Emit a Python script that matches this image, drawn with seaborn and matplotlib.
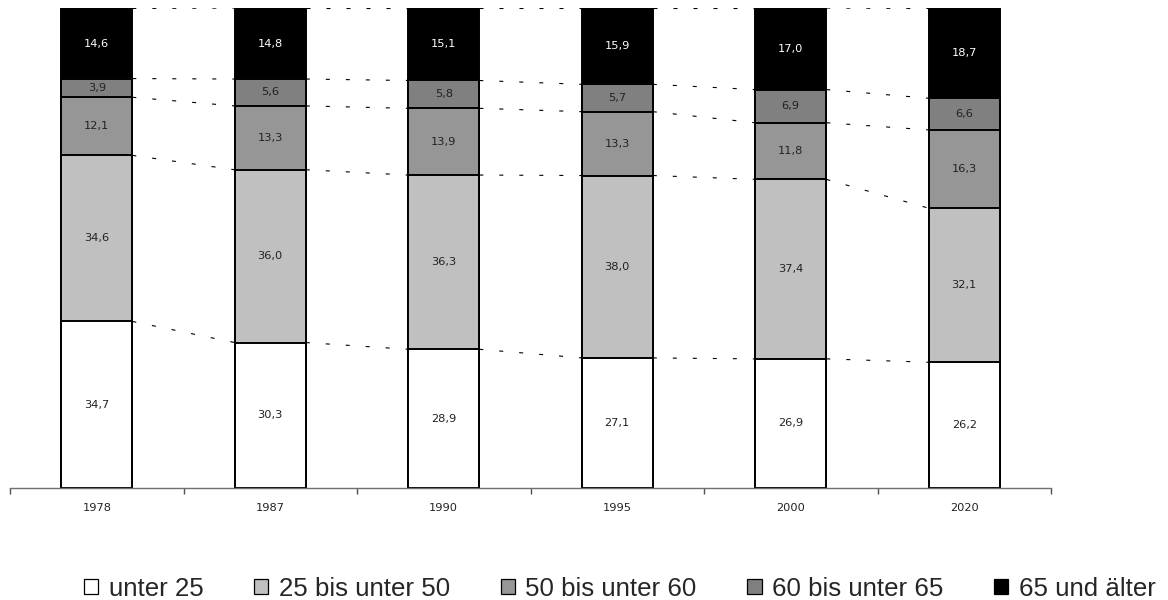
import matplotlib
matplotlib.use("Agg")
import matplotlib.pyplot as plt
from matplotlib.patches import Patch
from matplotlib.ticker import FixedLocator
import numpy as np
import pandas as pd
import seaborn as sns

# Altersstruktur in Prozent
years = ["1978", "1987", "1990", "1995", "2000", "2020"]
groups = ["unter 25", "25 bis unter 50", "50 bis unter 60", "60 bis unter 65", "65 und älter"]
unter_25 = [34.7, 30.3, 28.9, 27.1, 26.9, 26.2]
von_25_bis_50 = [34.6, 36.0, 36.3, 38.0, 37.4, 32.1]
von_50_bis_60 = [12.1, 13.3, 13.9, 13.3, 11.8, 16.3]
von_60_bis_65 = [3.9, 5.6, 5.8, 5.7, 6.9, 6.6]
ab_65 = [14.6, 14.8, 15.1, 15.9, 17.0, 18.7]

colors = ["#ffffff", "#c0c0c0", "#969696", "#808080", "#000000"]
label_colors = ["#222222", "#222222", "#222222", "#222222", "#ffffff"]

series = [unter_25, von_25_bis_50, von_50_bis_60, von_60_bis_65, ab_65]
values = np.array(series)
cum = np.cumsum(values, axis=0)

sns.set_style("white")
plt.rcParams["font.family"] = ["DejaVu Sans"]

fig = plt.figure(figsize=(11.68, 6.0), dpi=100)
ax = fig.add_axes([10 / 1168, 112 / 600, 1041 / 1168, 480 / 600])

bar_width = 0.41
# cumulative bars drawn from the top group downwards so each overlays the next
for i in range(len(groups) - 1, -1, -1):
    df = pd.DataFrame({"Jahr": years, "Anteil": cum[i]})
    sns.barplot(data=df, x="Jahr", y="Anteil", color=colors[i], width=bar_width,
                edgecolor="black", linewidth=1.4, saturation=1, ax=ax, zorder=2)

# value labels in the middle of each segment
for i in range(len(groups)):
    for j in range(len(years)):
        mid = cum[i, j] - values[i, j] / 2
        txt = f"{values[i, j]:.1f}".replace(".", ",")
        ax.text(j, mid, txt, ha="center", va="center", fontsize=8.2,
                color=label_colors[i], zorder=4)

# dashed connectors between neighbouring bars at every segment boundary
half = bar_width / 2
for i in range(len(groups)):
    for j in range(len(years) - 1):
        ax.plot([j + half, j + 1 - half], [cum[i, j], cum[i, j + 1]],
                color="black", linewidth=0.8, linestyle=(0, (3.6, 14.4)), zorder=1)

ax.set_xlim(-0.5, len(years) - 0.5)
ax.set_ylim(0, 100)
ax.set_xlabel("")
ax.set_ylabel("")
ax.set_yticks([])
for side in ["left", "right", "top"]:
    ax.spines[side].set_visible(False)
ax.spines["bottom"].set_color("#707070")
ax.spines["bottom"].set_linewidth(1.0)

ax.set_xticks(range(len(years)))
ax.set_xticklabels(years, fontsize=8.2, color="#222222")
ax.tick_params(axis="x", which="major", bottom=False, length=0, pad=11)
ax.xaxis.set_minor_locator(FixedLocator(np.arange(-0.5, len(years), 1.0)))
ax.tick_params(axis="x", which="minor", bottom=True, length=4, width=1.0,
               color="#505050", direction="out")

handles = [Patch(facecolor=c, edgecolor="black", linewidth=0.9) for c in colors]
fig.legend(handles, groups, loc="center left", bbox_to_anchor=(84 / 1168, 0.019), ncol=5,
           frameon=False, handlelength=0.55, handleheight=0.55,
           handletextpad=0.4, columnspacing=1.97, borderpad=0, borderaxespad=0,
           prop={"family": ["Liberation Sans", "DejaVu Sans"], "size": 18.6})

fig.savefig("out.png", dpi=100, facecolor="white")
